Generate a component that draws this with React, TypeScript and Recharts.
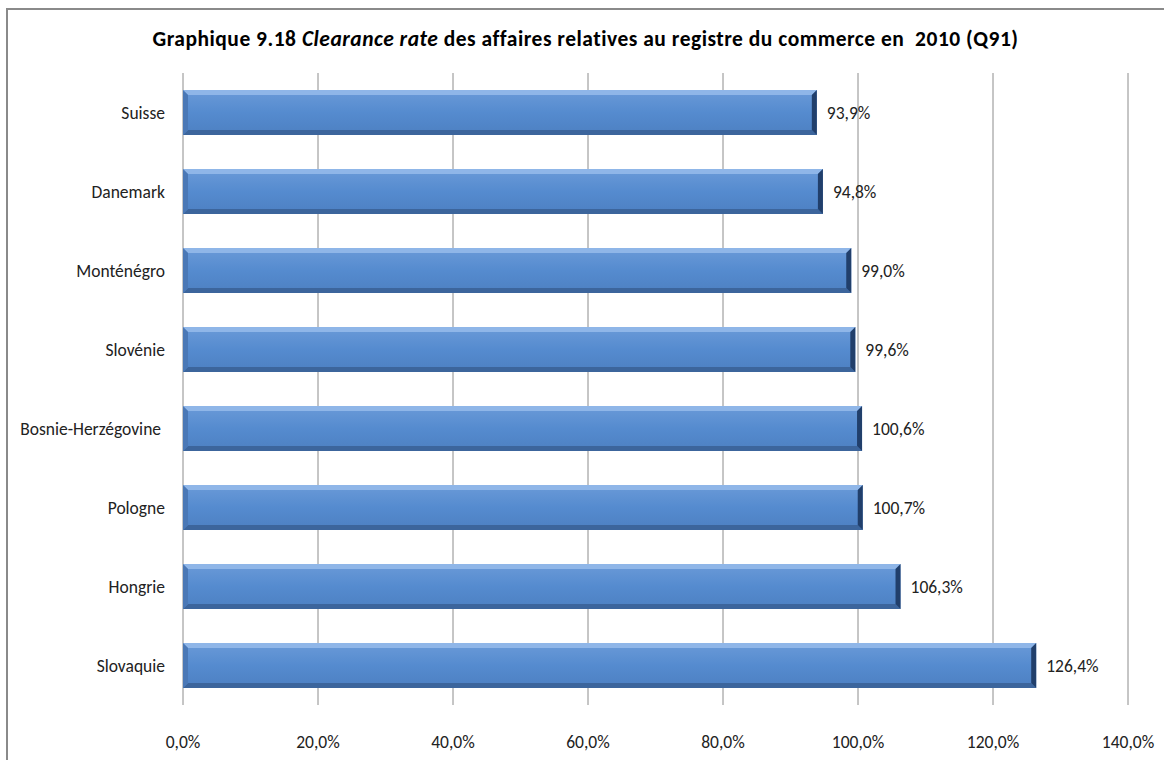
import React from "react";
import { BarChart, Bar, XAxis, YAxis, CartesianGrid, LabelList } from "recharts";

const countries = [
  "Suisse",
  "Danemark",
  "Monténégro",
  "Slovénie",
  "Bosnie-Herzégovine ",
  "Pologne",
  "Hongrie",
  "Slovaquie",
];
const rates = [93.9, 94.8, 99.0, 99.6, 100.6, 100.7, 106.3, 126.4];
const xTicks = [0, 20, 40, 60, 80, 100, 120, 140];

const data = countries.map((c, i) => ({ country: c, rate: rates[i] }));

const FONT = "Carlito, Calibri, 'Open Sans', sans-serif";
const fmt = (v: number) => v.toFixed(1).replace(".", ",") + "%";

// bar with the bevel look of the old Excel style
function BevelBar(props: any) {
  const { x, y, width: w, height: h } = props;
  if (w <= 0) return null;
  const b = 5;
  return (
    <g>
      <rect x={x} y={y} width={w} height={h} fill="url(#face)" />
      <polygon points={`${x},${y} ${x + w},${y} ${x + w - b},${y + b} ${x + b},${y + b}`} fill="#8fb6e8" />
      <polygon points={`${x},${y + h} ${x + w},${y + h} ${x + w - b},${y + h - b} ${x + b},${y + h - b}`} fill="#3c659c" />
      <polygon points={`${x},${y} ${x + b},${y + b} ${x + b},${y + h - b} ${x},${y + h}`} fill="#4a78b6" />
      <polygon points={`${x + w},${y} ${x + w - b},${y + b} ${x + w - b},${y + h - b} ${x + w},${y + h}`} fill="#213f6b" />
    </g>
  );
}

export default function App() {
  return (
    <div
      style={{
        position: "fixed",
        left: 0,
        top: 0,
        width: 1164,
        height: 760,
        background: "#fff",
        overflow: "hidden",
        fontFamily: FONT,
      }}
    >
      <div
        style={{
          position: "absolute",
          left: 6,
          top: 8,
          width: 1200,
          height: 800,
          border: "2px solid #8a8a8a",
        }}
      />
      <div
        style={{
          position: "absolute",
          left: 0,
          width: 1171,
          top: 26,
          textAlign: "center",
          fontWeight: "bold",
          fontSize: 21.5,
          letterSpacing: 0.5,
          color: "#000",
          whiteSpace: "pre",
        }}
      >
        Graphique 9.18 <i>Clearance rate</i> des affaires relatives au registre du commerce en{"  "}2010 (Q91)
      </div>
      <div style={{ position: "absolute", left: 0, top: 0 }}>
        <BarChart
          width={1164}
          height={760}
          data={data}
          layout="vertical"
          margin={{ top: 73, right: 36, bottom: 15, left: 3 }}
        >
          <defs>
            <linearGradient id="face" x1="0" y1="0" x2="0" y2="1">
              <stop offset="0%" stopColor="#6a9ad8" />
              <stop offset="50%" stopColor="#558bcf" />
              <stop offset="100%" stopColor="#4d80c2" />
            </linearGradient>
          </defs>
          <CartesianGrid horizontal={false} stroke="#8c8c8c" />
          <XAxis
            type="number"
            domain={[0, 140]}
            ticks={xTicks}
            tickFormatter={fmt}
            axisLine={false}
            tickLine={false}
            tickSize={0}
            tickMargin={31}
            height={40}
            tick={{ fontSize: 17.5, fill: "#222", fontFamily: FONT }}
          />
          <YAxis
            type="category"
            dataKey="country"
            width={180}
            axisLine={false}
            tickLine={false}
            tickSize={0}
            tickMargin={18}
            tick={{ fontSize: 17.5, fill: "#222", fontFamily: FONT, style: { whiteSpace: "pre" } }}
          />
          <Bar dataKey="rate" barSize={45} shape={<BevelBar />} isAnimationActive={false}>
            <LabelList
              dataKey="rate"
              position="right"
              offset={10}
              formatter={(v: any) => fmt(Number(v))}
              style={{ fontSize: 17.5, fill: "#222", fontFamily: FONT }}
            />
          </Bar>
        </BarChart>
      </div>
    </div>
  );
}
